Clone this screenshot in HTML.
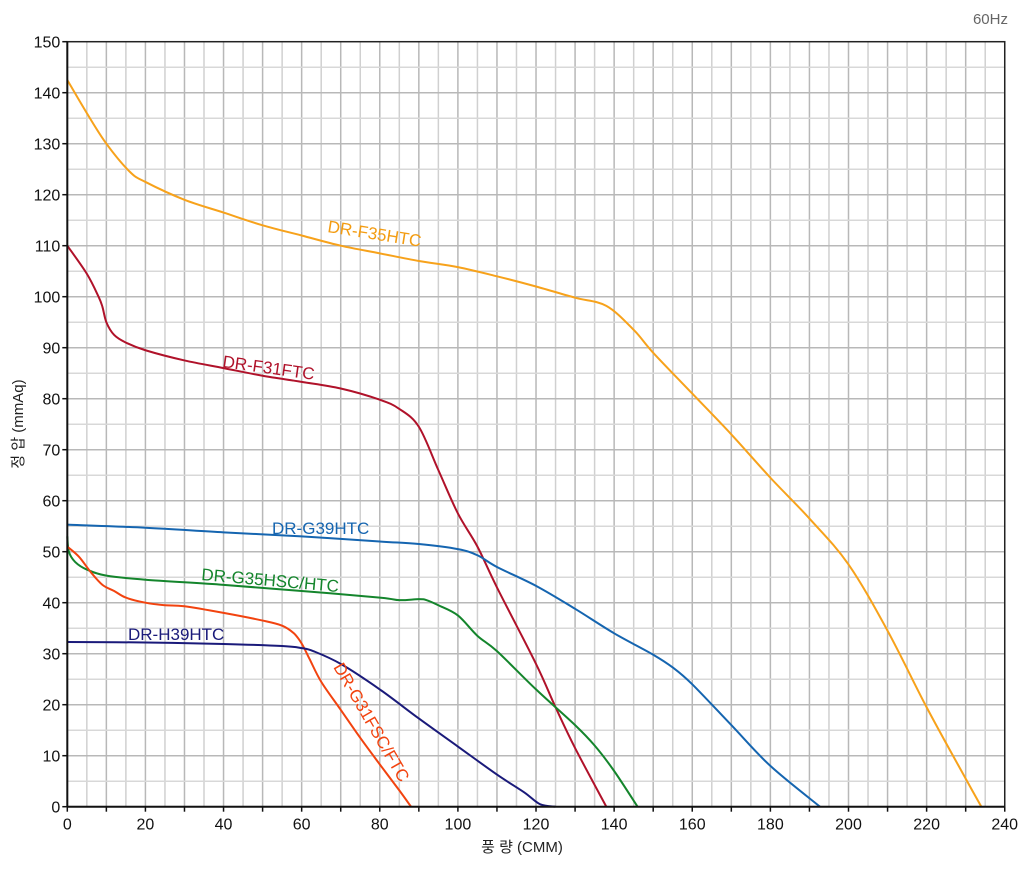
<!DOCTYPE html>
<html><head><meta charset="utf-8"><style>
html,body{margin:0;padding:0;background:#fff}
svg{display:block}
text{font-family:"Liberation Sans","Noto Sans CJK KR",sans-serif}
</style></head><body>
<svg id="s" width="1024" height="878" xmlns="http://www.w3.org/2000/svg">
<g id="grid"></g>
<g id="curves" fill="none" stroke-width="2"></g>
<g id="axes"></g>
<text x="1008" y="24" font-size="15" fill="#666" text-anchor="end">60Hz</text>
<text x="522" y="852" font-size="15" text-anchor="middle" fill="#222">풍 량 (CMM)</text>
<text transform="translate(23,424) rotate(-90)" font-size="15" text-anchor="middle" fill="#222">정 압 (mmAq)</text>
<g font-size="17">
<text transform="translate(327,232) rotate(9)" fill="#f39c12">DR-F35HTC</text>
<text transform="translate(222,367) rotate(8)" fill="#b0122a">DR-F31FTC</text>
<text x="272" y="534" fill="#1565b0">DR-G39HTC</text>
<text transform="translate(201,580) rotate(5)" fill="#14852c">DR-G35HSC/HTC</text>
<text x="128" y="640" fill="#1a1a7a">DR-H39HTC</text>
<text transform="translate(333,667) rotate(60)" fill="#f2430f">DR-G31FSC/FTC</text>
</g>
</svg>
<script>
const X=v=>67.3+3.906*v, Y=v=>806.7-5.1*v;
const ns="http://www.w3.org/2000/svg";
function el(p,t,a){const e=document.createElementNS(ns,t);for(const k in a)e.setAttribute(k,a[k]);p.appendChild(e);return e;}
const g=document.getElementById('grid'),ax=document.getElementById('axes'),cv=document.getElementById('curves');
for(let v=5;v<240;v+=5)el(g,'line',{x1:X(v),x2:X(v),y1:Y(0),y2:Y(150),stroke:v%10?'#d0d0d0':'#b8b8b8','stroke-width':1.5});
for(let v=5;v<150;v+=5)el(g,'line',{y1:Y(v),y2:Y(v),x1:X(0),x2:X(240),stroke:v%10?'#d8d8d8':'#b8b8b8','stroke-width':1.5});
el(ax,'rect',{x:X(0),y:Y(150),width:X(240)-X(0),height:Y(0)-Y(150),fill:'none',stroke:'#222','stroke-width':1.5});
el(ax,'line',{x1:X(0),x2:X(0),y1:Y(0),y2:Y(150),stroke:'#111','stroke-width':2});
el(ax,'line',{x1:X(0),x2:X(240),y1:Y(0),y2:Y(0),stroke:'#111','stroke-width':2});
for(let v=0;v<=240;v+=10){el(ax,'line',{x1:X(v),x2:X(v),y1:Y(0),y2:Y(0)+5,stroke:'#111','stroke-width':1.5});
 if(v%20==0){const t=el(ax,'text',{x:X(v),y:Y(0)+23,'font-size':16,'text-anchor':'middle',fill:'#111'});t.textContent=v;}}
for(let v=0;v<=150;v+=10){el(ax,'line',{x1:X(0)-5,x2:X(0),y1:Y(v),y2:Y(v),stroke:'#111','stroke-width':1.5});
 const t=el(ax,'text',{x:X(0)-7,y:Y(v)+6,'font-size':16,'text-anchor':'end',fill:'#111'});t.textContent=v;}
function path(pts,c){const p=pts.map(q=>[X(q[0]),Y(q[1])]);let d='M'+p[0];
 for(let i=0;i<p.length-1;i++){const a=p[i-1]||p[i],b=p[i],c2=p[i+1],e=p[i+2]||c2;
 d+=` C${b[0]+(c2[0]-a[0])/6},${b[1]+(c2[1]-a[1])/6} ${c2[0]-(e[0]-b[0])/6},${c2[1]-(e[1]-b[1])/6} ${c2[0]},${c2[1]}`;}
 el(cv,'path',{d:d,stroke:c});}
path([[0,142.5],[5,136],[10,130],[16,124.5],[20,122.5],[30,119],[40,116.5],[50,114],[60,112],[70,110],[80,108.5],[90,107],[100,105.8],[110,104],[120,102],[130,99.8],[138,98.2],[145,93.5],[150,89],[160,81],[170,73],[180,64.5],[190,56.5],[200,47.5],[210,34.5],[220,19.5],[230,5.5],[234,0]],'#f7a21b');
path([[0,110],[5,104.5],[8,100],[9,98],[10,95],[12,92.5],[15,91],[20,89.5],[30,87.5],[40,86],[50,84.5],[60,83.3],[70,82],[80,79.8],[85,78],[90,74.5],[95,66],[100,57.5],[105,51],[110,43],[120,28],[125,19.5],[130,11.5],[138,0]],'#b0122a');
path([[0,55.3],[20,54.7],[40,53.8],[60,53],[80,52],[90,51.5],[100,50.5],[105,49.3],[110,47],[120,43.3],[130,38.8],[140,34],[150,29.8],[155,27.3],[160,24],[170,16],[180,8],[192.7,0]],'#1565b0');
path([[0,53],[0.4,50],[2,48],[5,46.5],[10,45.3],[20,44.5],[40,43.5],[60,42.3],[80,41],[85,40.5],[90,40.7],[92,40.5],[95,39.5],[100,37.5],[105,33.5],[110,30.5],[120,23],[130,16],[135,12],[140,7],[146,0]],'#14852c');
path([[0,51],[3,49],[6,46],[9,43.5],[12,42.3],[15,41],[20,40],[25,39.5],[30,39.3],[40,38],[50,36.5],[55,35.5],[58,34],[60,32],[62,29],[65,24.5],[70,19],[75,13.5],[80,8.3],[85,3.2],[88,0]],'#f2430f');
path([[0,32.3],[20,32.2],[40,31.9],[55,31.5],[60,31.1],[63,30.5],[70,28],[80,23],[90,17.3],[100,11.8],[110,6.3],[117,2.8],[121,0.5],[125,-0.5]].map(q=>[q[0],Math.max(q[1],0)]),'#1a1a7a');
</script>
</body></html>
